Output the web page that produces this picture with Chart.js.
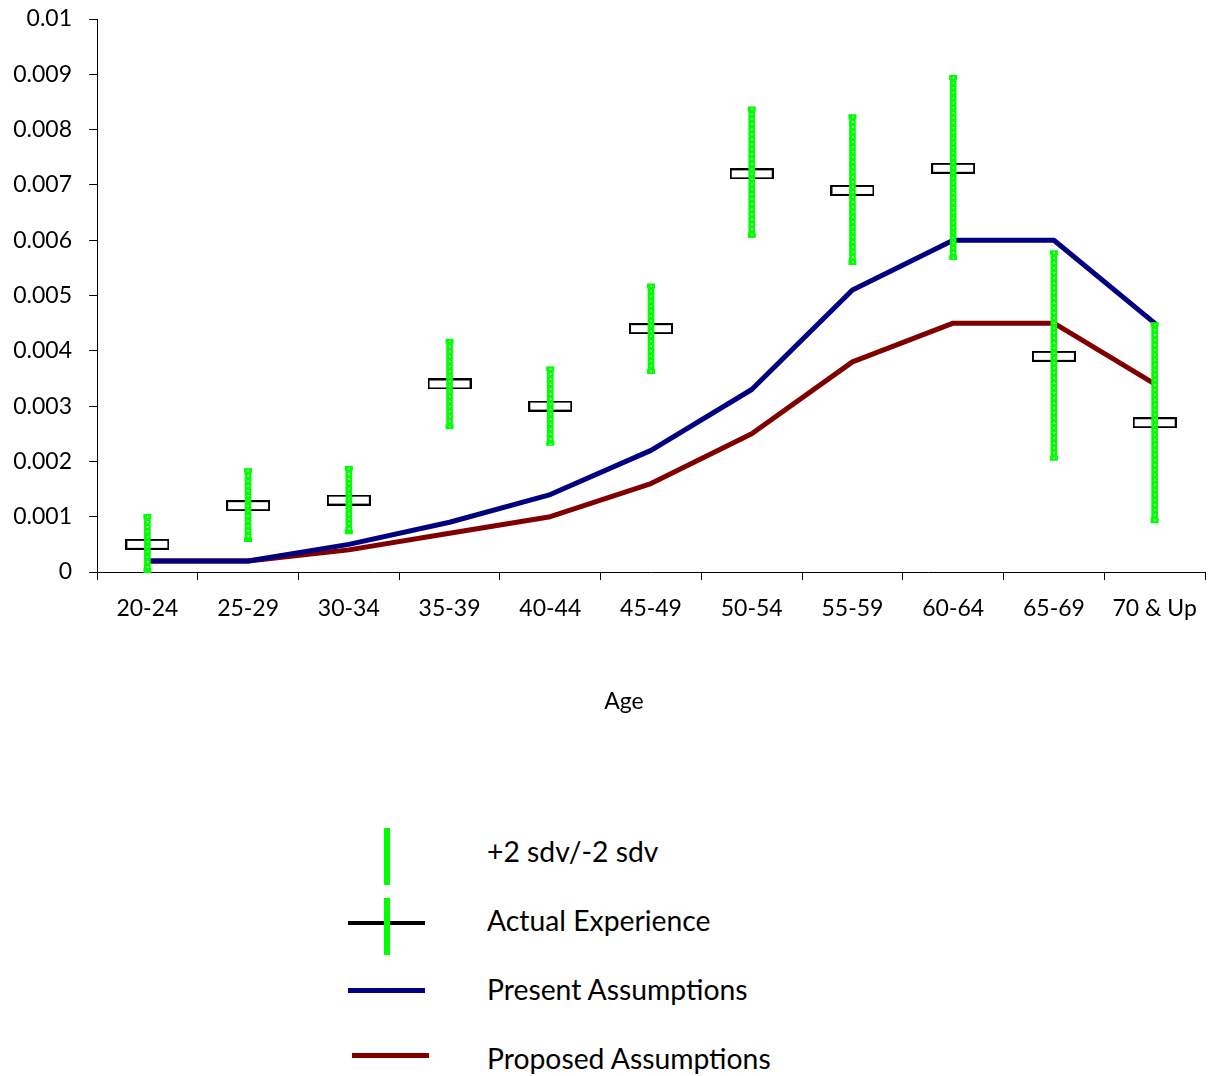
<!DOCTYPE html>
<html>
<head>
<meta charset="utf-8">
<script src="https://cdn.jsdelivr.net/npm/chart.js@4.4.1/dist/chart.umd.min.js"></script>
<style>
html,body{margin:0;padding:0;background:#fff}
#wrap{position:relative;width:1209px;height:1076px}
#chartBox{position:absolute;left:0;top:0;width:1209px;height:730px}
.leg{position:absolute;left:487px;font-family:Lato,"Open Sans",sans-serif;font-size:28.3px;color:#000;line-height:30px}
.sym{position:absolute}
#xTitle{position:absolute;left:574px;width:100px;top:686px;text-align:center;font-family:Lato,sans-serif;font-size:23px;line-height:28px;color:#000}
</style>
</head>
<body>
<div id="wrap">
<div id="chartBox"><canvas id="chart"></canvas></div>
<div id="xTitle">Age</div>

<div class="sym" style="left:384px;top:828px;width:6px;height:57px;background:#00ff00"></div>
<div class="leg" style="top:836px">+2 sdv/-2 sdv</div>

<div class="sym" style="left:348px;top:921px;width:77px;height:4px;background:#000"></div>
<div class="sym" style="left:384px;top:898px;width:6px;height:57px;background:#00ff00"></div>
<div class="leg" style="top:905px">Actual Experience</div>

<div class="sym" style="left:348px;top:988px;width:77px;height:5px;background:#000080"></div>
<div class="leg" style="top:974px">Present Assumptions</div>

<div class="sym" style="left:352px;top:1053px;width:77px;height:5px;background:#800000"></div>
<div class="leg" style="top:1043px">Proposed Assumptions</div>
</div>

<script>
const ages=["20-24","25-29","30-34","35-39","40-44","45-49","50-54","55-59","60-64","65-69","70 & Up"]
const actual=[0.0005,0.0012,0.0013,0.0034,0.0030,0.0044,0.0072,0.0069,0.0073,0.0039,0.0027]
const upper=[0.00103,0.00186,0.0019,0.0042,0.0037,0.0052,0.0084,0.00826,0.00897,0.0058,0.0045]
const lower=[0.0000,0.00056,0.0007,0.0026,0.0023,0.0036,0.00606,0.00557,0.00566,0.00203,0.0009]
const present=[0.0002,0.0002,0.0005,0.0009,0.0014,0.0022,0.0033,0.0051,0.0060,0.0060,0.0045]
const proposed=[0.0002,0.0002,0.0004,0.0007,0.0010,0.0016,0.0025,0.0038,0.0045,0.0045,0.0034]
const yTickLabels=["0","0.001","0.002","0.003","0.004","0.005","0.006","0.007","0.008","0.009","0.01"]

// white box marker for actual experience
const box=document.createElement("canvas")
box.width=44
box.height=11
const bctx=box.getContext("2d")
bctx.fillStyle="#fff"
bctx.fillRect(1,1,42,9)
bctx.strokeStyle="#000"
bctx.lineWidth=2
bctx.strokeRect(1,1,42,9)

const sdvRange=upper.map((u,i)=>[lower[i],u])

// caps and dots on the green error bars
const errorDecor={
id:"errorDecor",
afterDatasetDraw(chart,args){
if(args.index!==0) return
const ctx=chart.ctx
const x=chart.scales.x
const y=chart.scales.y
ctx.save()
ages.forEach((a,i)=>{
const px=x.getPixelForValue(i)
const top=y.getPixelForValue(upper[i])
const bot=y.getPixelForValue(lower[i])
ctx.fillStyle="#00ff00"
ctx.fillRect(px-4,top-1,8,5)
ctx.fillRect(px-4,bot-4,8,5)
ctx.fillStyle="#ffffff"
for(let yy=top+1;yy<bot-1;yy+=5){
ctx.fillRect(px-0.5,yy,1.5,1.5)
}
})
ctx.restore()
}
}

new Chart(document.getElementById("chart"),{
data:{
labels:ages,
datasets:[
{
type:"bar",
label:"+2 sdv/-2 sdv",
data:sdvRange,
backgroundColor:"#00ff00",
barThickness:6,
order:0
},
{
type:"line",
label:"Actual Experience",
data:actual,
showLine:false,
pointStyle:box,
pointRadius:6,
order:1
},
{
type:"line",
label:"Present Assumptions",
data:present,
borderColor:"#000080",
borderWidth:5,
pointRadius:0,
borderCapStyle:"round",
borderJoinStyle:"round",
tension:0,
order:2
},
{
type:"line",
label:"Proposed Assumptions",
data:proposed,
borderColor:"#800000",
borderWidth:5,
pointRadius:0,
borderCapStyle:"round",
borderJoinStyle:"round",
tension:0,
order:3
}
]
},
options:{
responsive:true,
maintainAspectRatio:false,
animation:false,
layout:{autoPadding:false,padding:{top:19,right:4,left:0,bottom:0}},
plugins:{
legend:{display:false},
tooltip:{enabled:false}
},
scales:{
x:{
offset:true,
grid:{
offset:true,
drawOnChartArea:false,
drawTicks:true,
tickLength:8,
color:"#000",
lineWidth:1
},
border:{display:true,color:"#000",width:1},
ticks:{
color:"#000",
padding:15,
maxRotation:0,
font:{family:"Lato",size:23}
},
afterFit(s){
s.height=730-572
s.paddingLeft=0
s.paddingRight=0
}
},
y:{
min:0,
max:0.01,
grid:{
drawOnChartArea:false,
drawTicks:true,
tickLength:8,
color:"#000",
lineWidth:1
},
border:{display:true,color:"#000",width:1},
ticks:{
stepSize:0.001,
color:"#000",
padding:17,
font:{family:"Lato",size:23},
callback:(v,i)=>yTickLabels[i]
},
afterFit(s){
s.width=97
s.paddingTop=0
s.paddingBottom=0
}
}
}
},
plugins:[errorDecor]
})
</script>
</body>
</html>
